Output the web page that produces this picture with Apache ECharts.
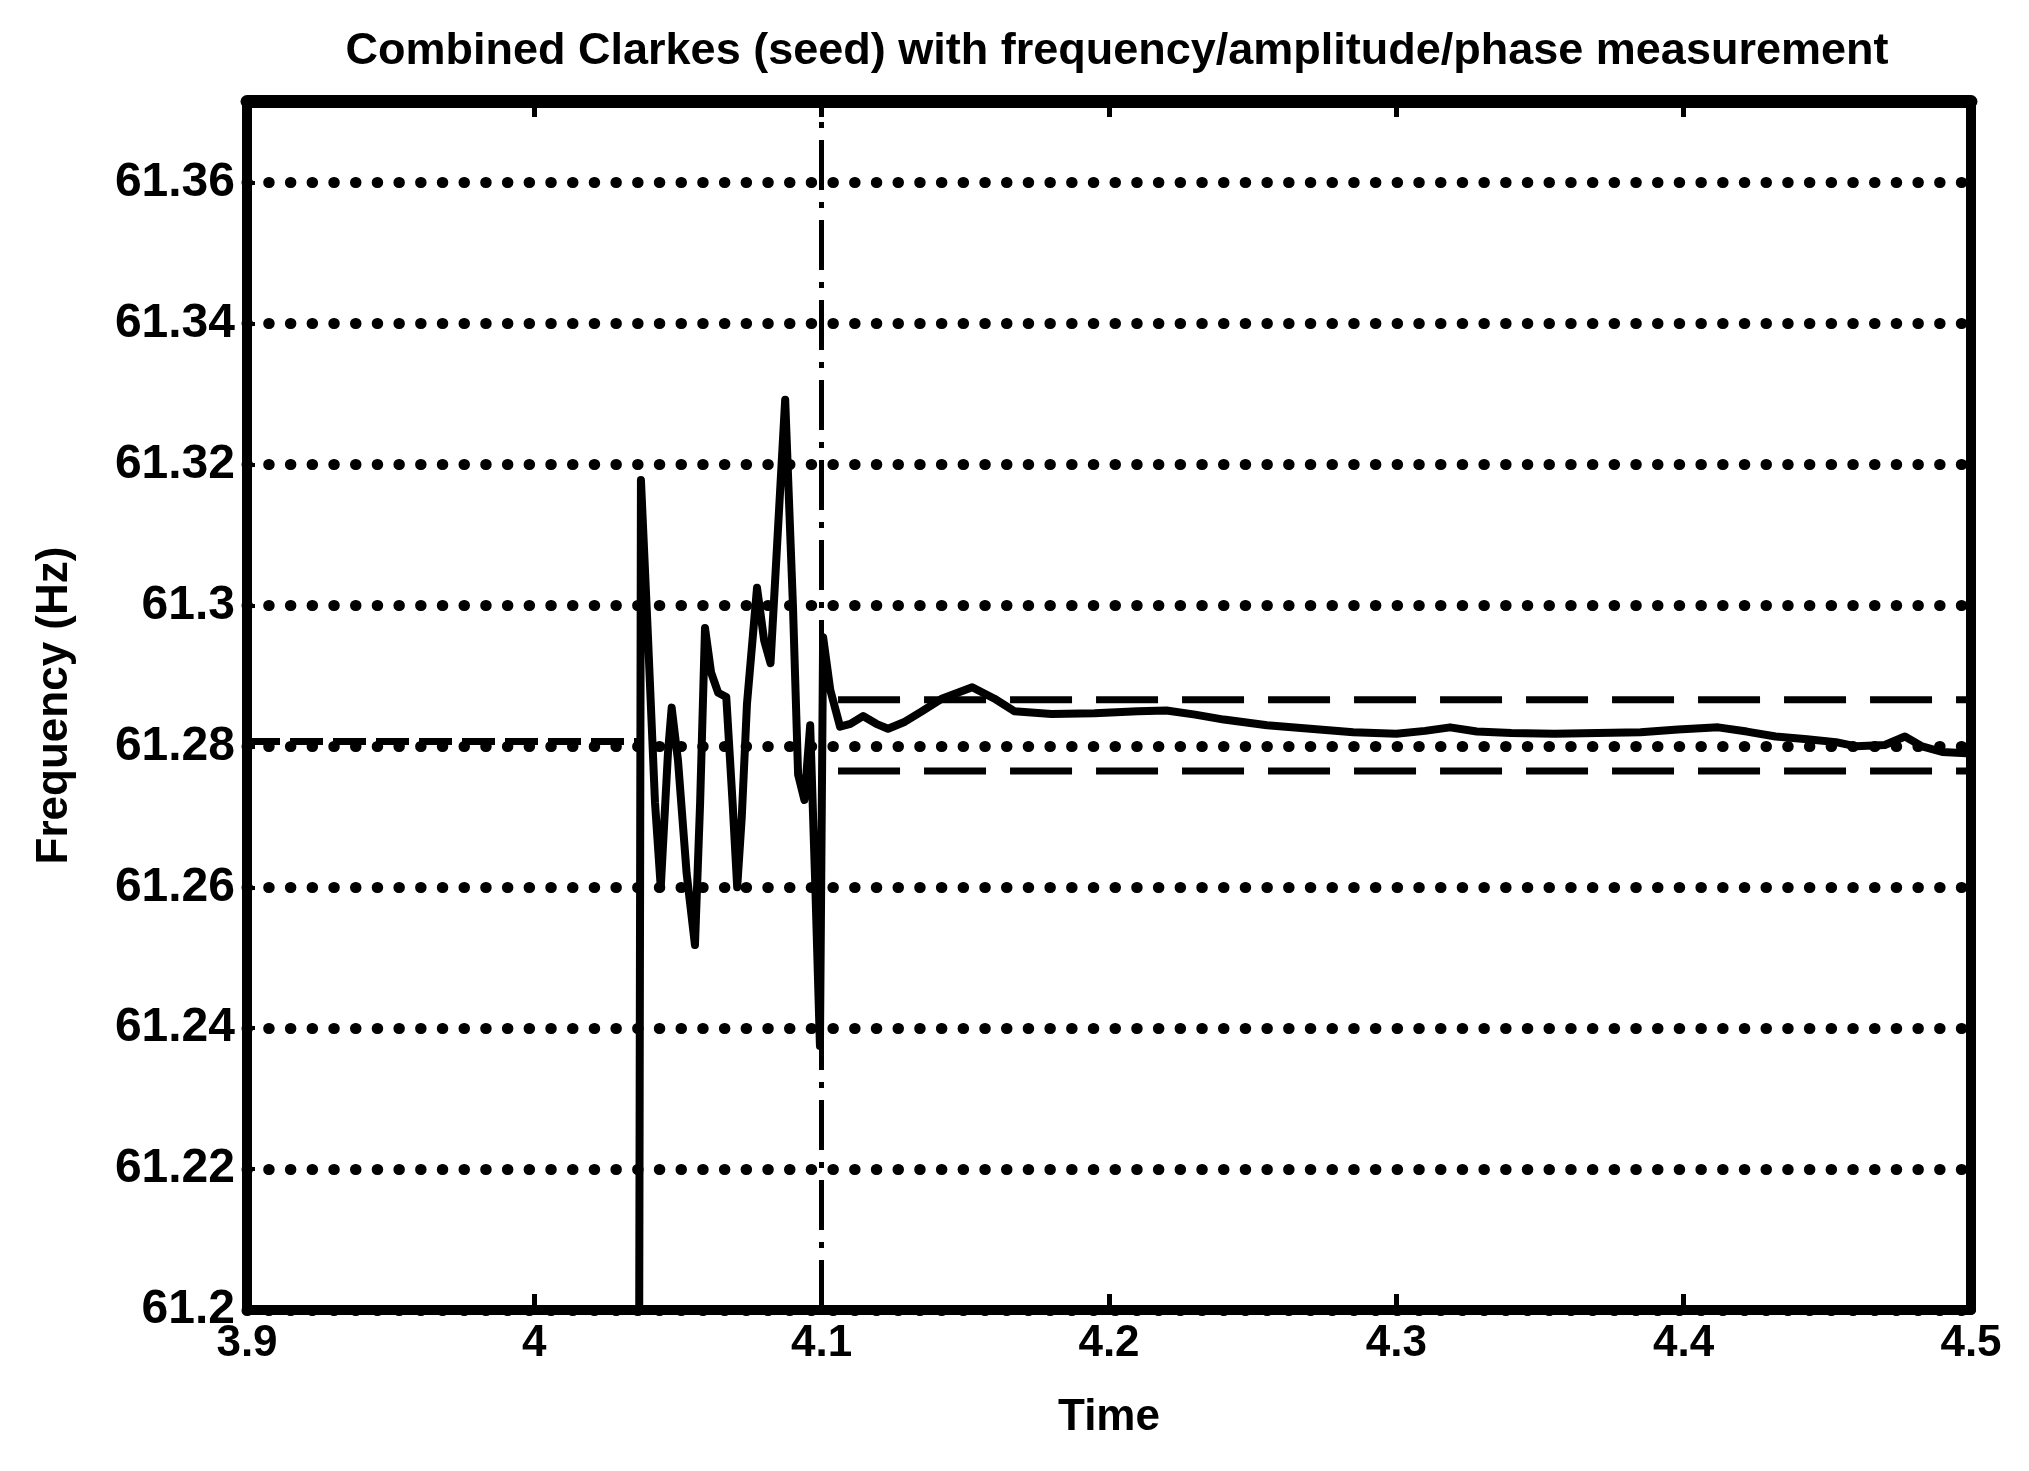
<!DOCTYPE html>
<html>
<head>
<meta charset="utf-8">
<script src="https://cdn.jsdelivr.net/npm/echarts@6/dist/echarts.min.js"></script>
<style>
  html, body { margin: 0; padding: 0; background: #fff; }
  #chart { width: 2029px; height: 1471px; }
</style>
</head>
<body>
<div id="chart"></div>
<script>
// axis ranges
const xMin = 3.9, xMax = 4.5, xStep = 0.1;
const yMin = 61.2, yMax = 61.3716, yStep = 0.02;

// measured frequency (Hz) vs time
const signalTime = [4.0365, 4.0371, 4.0395, 4.0420, 4.0440, 4.0465, 4.0478, 4.0500, 4.0530, 4.0559,
  4.0577, 4.0594, 4.0615, 4.0640, 4.0668, 4.0690, 4.0706, 4.0722, 4.0740, 4.0775,
  4.0800, 4.0822, 4.0873, 4.0900, 4.0918, 4.0940, 4.0960, 4.0978, 4.0994, 4.1005,
  4.1030, 4.1064, 4.1100, 4.1144, 4.1190, 4.1231, 4.1290, 4.1350, 4.1420, 4.1524,
  4.1600, 4.1670, 4.1800, 4.1950, 4.2100, 4.2200, 4.2300, 4.2400, 4.2550, 4.2700,
  4.2850, 4.3000, 4.3100, 4.3187, 4.3280, 4.3400, 4.3550, 4.3700, 4.3850, 4.3980,
  4.4120, 4.4220, 4.4320, 4.4430, 4.4530, 4.4600, 4.4700, 4.4770, 4.4830, 4.4900, 4.5000];
const signalFreq = [61.2000, 61.3178, 61.2960, 61.2720, 61.2600, 61.2790, 61.2855, 61.2780, 61.2620, 61.2518,
  61.2720, 61.2968, 61.2905, 61.2876, 61.2870, 61.2720, 61.2600, 61.2700, 61.2860, 61.3025,
  61.2950, 61.2918, 61.3292, 61.3000, 61.2760, 61.2724, 61.2830, 61.2600, 61.2375, 61.2955,
  61.2880, 61.2828, 61.2832, 61.2843, 61.2832, 61.2825, 61.2835, 61.2850, 61.2868, 61.2884,
  61.2868, 61.2850, 61.2846, 61.2847, 61.2850, 61.2851, 61.2845, 61.2838, 61.2830, 61.2825,
  61.2820, 61.2818, 61.2822, 61.2827, 61.2821, 61.2819, 61.2818, 61.2819, 61.2820, 61.2824,
  61.2827, 61.2821, 61.2814, 61.2810, 61.2806, 61.2800, 61.2802, 61.2814, 61.2800, 61.2792, 61.2790];

// steady value before the event, and tolerance band after it
const preTime = [3.9, 4.036];
const preFreq = 61.2807;
const bandTime = [4.1057, 4.5];
const bandUpper = 61.2866;
const bandLower = 61.2765;
const eventTime = 4.1;

const font = "'Liberation Sans', Arial, sans-serif";
const black = "#000";

const pair = (xs, ys) => xs.map((x, i) => [x, ys[i]]);
const flat = (xs, y) => xs.map((x) => [x, y]);

const myChart = echarts.init(document.getElementById("chart"));
myChart.setOption({
  animation: false,
  backgroundColor: "#fff",
  title: {
    text: "Combined Clarkes (seed) with frequency/amplitude/phase measurement",
    left: 1112,
    top: 24,
    textAlign: "center",
    textStyle: { fontSize: 45, fontWeight: "bold", color: black, fontFamily: font },
  },
  grid: { left: 247, right: 58, top: 101, bottom: 161 },
  xAxis: [
    {
      type: "value",
      min: xMin,
      max: xMax,
      interval: xStep,
      position: "bottom",
      name: "Time",
      nameLocation: "middle",
      nameGap: 86,
      nameTextStyle: { fontSize: 44, fontWeight: "bold", color: black, fontFamily: font },
      axisLine: { show: true, onZero: false, lineStyle: { color: black, width: 10 } },
      axisTick: { show: true, inside: true, length: 16, lineStyle: { color: black, width: 5 } },
      axisLabel: { fontSize: 44, fontWeight: "bold", color: black, margin: 12, fontFamily: font },
      splitLine: { show: false },
    },
    {
      type: "value",
      min: xMin,
      max: xMax,
      interval: xStep,
      position: "top",
      axisLine: { show: true, onZero: false, lineStyle: { color: black, width: 13 } },
      axisTick: { show: true, inside: true, length: 16, lineStyle: { color: black, width: 5 } },
      axisLabel: { show: false },
      splitLine: { show: false },
    },
  ],
  yAxis: [
    {
      type: "value",
      min: yMin,
      max: yMax,
      interval: yStep,
      name: "Frequency (Hz)",
      nameLocation: "middle",
      nameGap: 170,
      nameTextStyle: { fontSize: 44, fontWeight: "bold", color: black, fontFamily: font },
      axisLine: { show: true, onZero: false, lineStyle: { color: black, width: 10 } },
      axisTick: { show: true, inside: true, length: 8, lineStyle: { color: black, width: 4 } },
      axisLabel: {
        fontSize: 48,
        fontWeight: "bold",
        color: black,
        margin: 12,
        fontFamily: font,
        formatter: (v) => (Math.abs(v / yStep - Math.round(v / yStep)) < 1e-6 ? String(+v.toFixed(2)) : ""),
      },
      // 点状网格线
      splitLine: {
        show: true,
        lineStyle: { color: black, width: 11, type: [0.5, 21.2], cap: "round" },
      },
    },
    {
      type: "value",
      min: yMin,
      max: yMax,
      interval: yStep,
      position: "right",
      axisLine: { show: true, onZero: false, lineStyle: { color: black, width: 10 } },
      axisTick: { show: true, inside: true, length: 8, lineStyle: { color: black, width: 4 } },
      axisLabel: { show: false },
      splitLine: { show: false },
    },
  ],
  series: [
    {
      type: "line",
      data: flat(preTime, preFreq),
      symbol: "none",
      lineStyle: { color: black, width: 7, type: [33, 10] },
    },
    {
      type: "line",
      data: flat(bandTime, bandUpper),
      symbol: "none",
      lineStyle: { color: black, width: 7, type: [62, 24] },
    },
    {
      type: "line",
      data: flat(bandTime, bandLower),
      symbol: "none",
      lineStyle: { color: black, width: 7, type: [62, 24] },
    },
    {
      type: "line",
      data: pair(signalTime, signalFreq),
      symbol: "none",
      lineStyle: { color: black, width: 8, join: "round" },
      // 事件时刻的点划线
      markLine: {
        silent: true,
        symbol: "none",
        label: { show: false },
        lineStyle: { color: black, width: 5, type: [50, 12, 6, 12] },
        data: [{ xAxis: eventTime }],
      },
    },
  ],
});
</script>
</body>
</html>
